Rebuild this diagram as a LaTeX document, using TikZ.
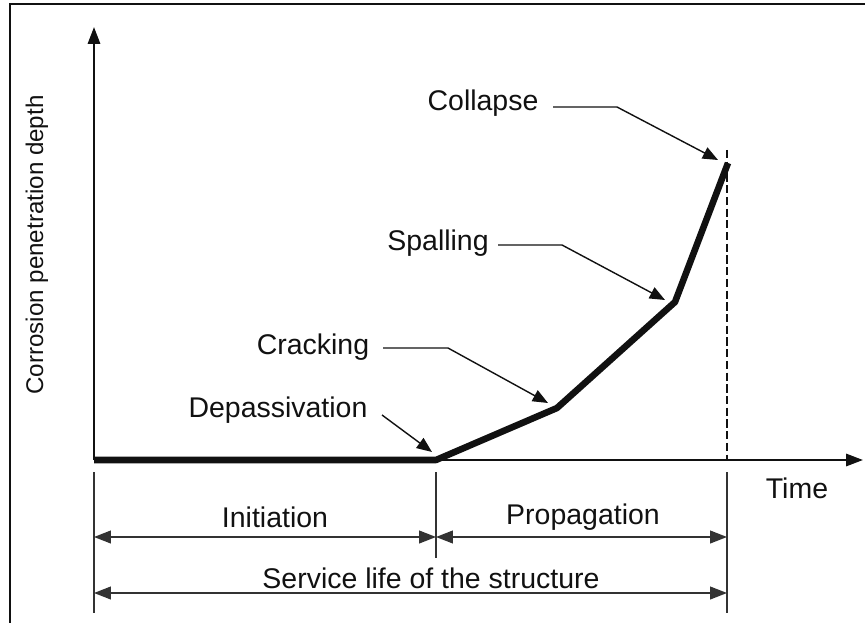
\documentclass[tikz,border=0pt]{standalone}
\usepackage{fontspec}
\setmainfont{Liberation Sans}
\usetikzlibrary{arrows.meta}
\definecolor{Ink}{HTML}{111111}
\definecolor{Dim}{HTML}{333333}

\begin{document}
\begin{tikzpicture}[x=0.03cm,y=-0.03cm,>={Triangle[length=14.5pt,width=10.5pt]}]
\tikzset{
  lbl/.style={font=\fontsize{24.3}{29}\selectfont,text=Ink,inner sep=0pt},
  leader/.style={draw=Ink,line width=1.2pt,-{Triangle[length=13pt,width=10.5pt]},line join=round},
  dimline/.style={draw=Dim,line width=1.2pt,{Triangle[length=14.5pt,width=11pt]}-{Triangle[length=14.5pt,width=11pt]}},
  tickline/.style={draw=Dim,line width=1.3pt},
}
\useasboundingbox (0,0) rectangle (865,623);
% frame
\draw[Ink,line width=2.5pt] (10,623) -- (10,4) -- (865,4);
% curve points
\coordinate (O) at (94,460);
\coordinate (Dp) at (436,460);
\coordinate (Cr) at (557,408);
\coordinate (Sp) at (675,302);
\coordinate (Co) at (728,163);
\coordinate (Ytop) at (94,27);
\coordinate (Xend) at (863,460);
% axes
\draw[->,Ink,line width=2pt] (O) -- (Ytop);
\draw[->,Ink,line width=2pt] (O) -- (Xend);
\draw[Ink,line width=1.2pt,dash pattern=on 7pt off 3pt] (727,150) -- (727,460);
\draw[Ink,line width=5.6pt,line join=round] (O) -- (Dp) -- (Cr) -- (Sp) -- (Co);
% axis labels
\node[lbl,font=\fontsize{20.6}{25}\selectfont,rotate=90] (ylab) at (37,245) {Corrosion penetration depth};
\node[lbl] (time) at (797,488) {Time};
% callouts
\node[lbl] (collapse) at (483,103) {Collapse};
\node[lbl] (spalling) at (438,243) {Spalling};
\node[lbl] (cracking) at (313,347) {Cracking};
\node[lbl] (depass) at (278,410) {Depassivation};
\draw[leader] (553,107) -- (617,107) -- (718,160);
\draw[leader] (498,245) -- (562,245) -- (665,300);
\draw[leader] (383,348) -- (448,348) -- (548,403);
\draw[leader] (382,415) -- (432,452);
% phase ticks
\coordinate (t0) at (94,613);
\coordinate (t1) at (436,558);
\coordinate (t2) at (727,613);
\draw[tickline] (94,472) -- (t0);
\draw[tickline] (436,472) -- (t1);
\draw[tickline] (727,472) -- (t2);
% phase spans
\coordinate (iL) at (94,537);
\coordinate (iR) at (436,537);
\coordinate (pR) at (727,537);
\coordinate (sL) at (94,593);
\coordinate (sR) at (727,593);
\draw[dimline] (iL) -- (iR);
\draw[dimline] (iR) -- (pR);
\draw[dimline] (sL) -- (sR);
\node[lbl] (init) at (275,517) {Initiation};
\node[lbl] (prop) at (583,517) {Propagation};
\node[lbl] (service) at (431,578) {Service life of the structure};
\end{tikzpicture}
\end{document}
